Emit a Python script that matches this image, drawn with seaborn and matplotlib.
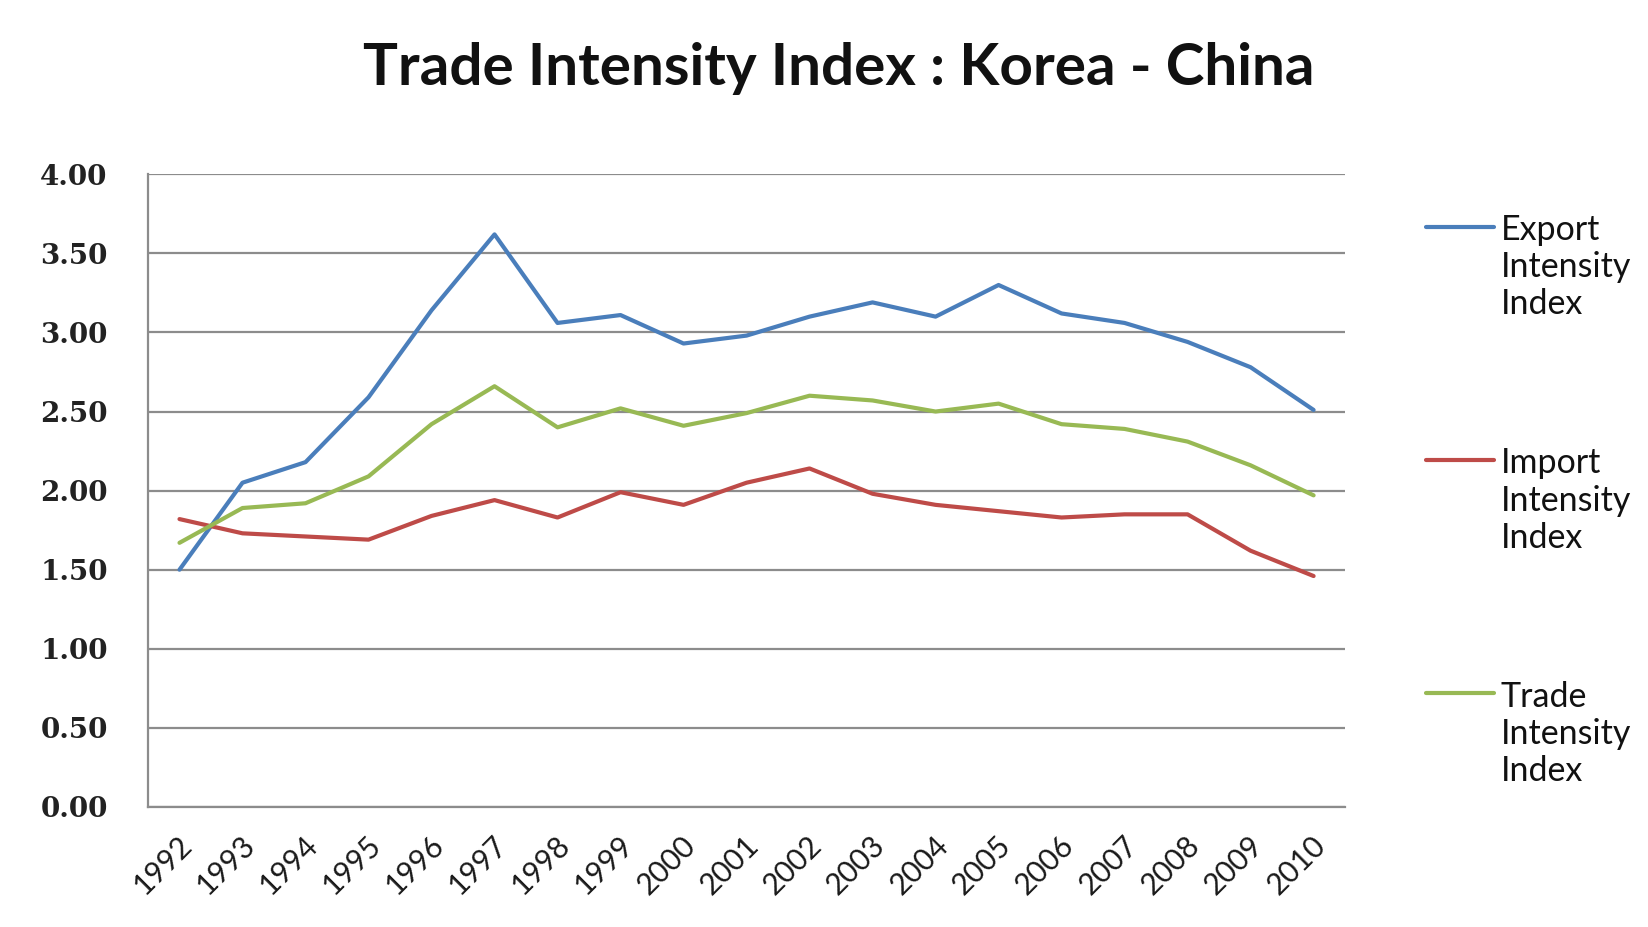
import matplotlib
matplotlib.use("Agg")
import matplotlib.pyplot as plt
import matplotlib.transforms as mtransforms
from matplotlib.legend_handler import HandlerLine2D
from matplotlib.lines import Line2D
import seaborn as sns
import pandas as pd

years = list(range(1992, 2011))
export_idx = [1.50, 2.05, 2.18, 2.59, 3.14, 3.62, 3.06, 3.11, 2.93, 2.98,
              3.10, 3.19, 3.10, 3.30, 3.12, 3.06, 2.94, 2.78, 2.51]
import_idx = [1.82, 1.73, 1.71, 1.69, 1.84, 1.94, 1.83, 1.99, 1.91, 2.05,
              2.14, 1.98, 1.91, 1.87, 1.83, 1.85, 1.85, 1.62, 1.46]
trade_idx = [1.67, 1.89, 1.92, 2.09, 2.42, 2.66, 2.40, 2.52, 2.41, 2.49,
             2.60, 2.57, 2.50, 2.55, 2.42, 2.39, 2.31, 2.16, 1.97]
series_names = ["Export Intensity Index", "Import Intensity Index",
                "Trade Intensity Index"]
series_colors = ["#4A7EBB", "#BE4B48", "#98B954"]
y_ticks = [0.0, 0.5, 1.0, 1.5, 2.0, 2.5, 3.0, 3.5, 4.0]
title = "Trade Intensity Index : Korea - China"

df = pd.concat([
    pd.DataFrame({"Year": years, "Value": vals, "Series": name})
    for name, vals in zip(series_names, [export_idx, import_idx, trade_idx])
])

sns.set_theme(style="white")
plt.rcParams["font.family"] = ["Lato", "DejaVu Sans"]

fig = plt.figure(figsize=(16.48, 9.27), dpi=100)
ax = fig.add_axes([0.0898, 0.1295, 0.8162 - 0.0898, 0.812 - 0.1295])

sns.lineplot(data=df, x="Year", y="Value", hue="Series", hue_order=series_names,
             palette=series_colors, linewidth=3.0, ax=ax, legend=False)

ax.set_xlim(years[0] - 0.5, years[-1] + 0.5)
ax.set_ylim(0, 4.0)
ax.set_yticks(y_ticks)
ax.set_yticklabels([f"{v:.2f}" for v in y_ticks],
                   fontfamily="DejaVu Serif", fontweight="bold",
                   fontsize=20, color="#222222")
ax.set_xticks(years)
ax.set_xticklabels([str(y) for y in years], rotation=45, ha="right",
                   va="center", rotation_mode="anchor", fontsize=21.5,
                   color="#1A1A1A")
ax.tick_params(axis="both", length=0)
ax.tick_params(axis="y", pad=29)
ax.tick_params(axis="x", pad=24.5)
# nudge the slanted year labels slightly right of their ticks
shift = mtransforms.ScaledTranslation(8 / 100, 0, fig.dpi_scale_trans)
for lbl in ax.get_xticklabels():
    lbl.set_transform(lbl.get_transform() + shift)
ax.set_xlabel("")
ax.set_ylabel("")

ax.yaxis.grid(True, color="#8C8C8C", linewidth=1.6)
ax.set_axisbelow(True)
for side in ["top", "right"]:
    ax.spines[side].set_visible(False)
for side in ["left", "bottom"]:
    ax.spines[side].set_color("#8C8C8C")
    ax.spines[side].set_linewidth(1.6)

fig.text(0.509, 0.926, title, ha="center", va="center", fontsize=42,
         fontweight="bold", color="#111111")


class TopLineHandler(HandlerLine2D):
    """Legend line placed level with the first line of a multi-line label."""

    def create_artists(self, legend, orig_handle, xdescent, ydescent, width,
                       height, fontsize, trans):
        offset = 2.45 * fontsize
        return super().create_artists(legend, orig_handle, xdescent,
                                      ydescent - offset, width, height,
                                      fontsize, trans)


handles = [Line2D([], [], color=c, linewidth=3.0) for c in series_colors]
labels = [n.replace(" ", "\n") for n in series_names]
fig.legend(handles, labels, loc="upper left",
           bbox_to_anchor=(1426 / 1648, 1 - 214 / 927),
           frameon=False, fontsize=24.5, handlelength=2.0, handletextpad=0.2,
           labelspacing=3.73, borderpad=0, borderaxespad=0,
           labelcolor="#111111",
           handler_map={Line2D: TopLineHandler()})

fig.savefig("out.png", dpi=100, facecolor="white")
